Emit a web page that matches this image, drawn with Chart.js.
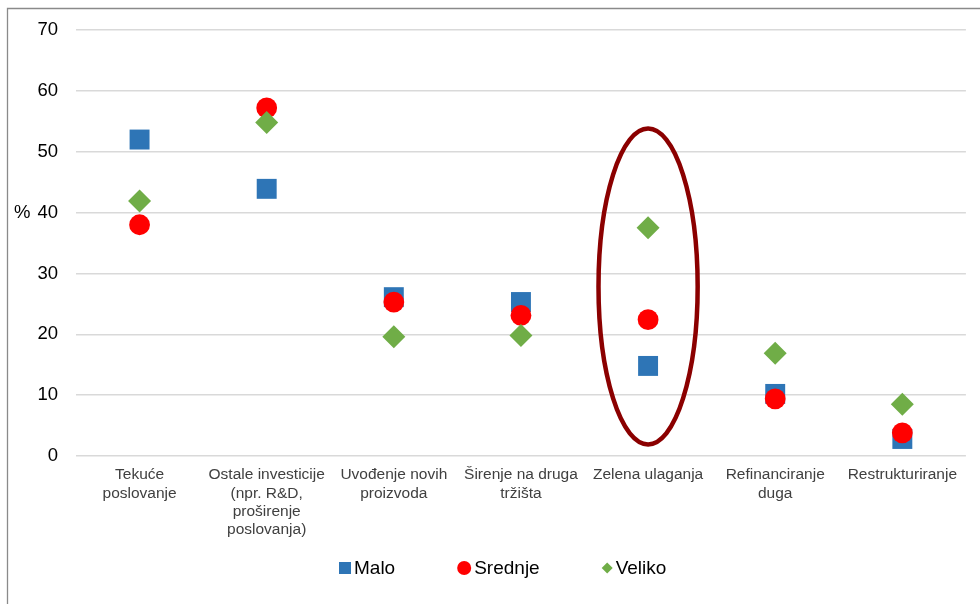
<!DOCTYPE html>
<html>
<head>
<meta charset="utf-8">
<script src="https://cdn.jsdelivr.net/npm/chart.js@4/dist/chart.umd.min.js"></script>
<style>
  html, body { margin: 0; padding: 0; background: #ffffff; }
  #wrap { position: relative; width: 980px; height: 604px; }
</style>
</head>
<body>
<div id="wrap"><canvas id="c" width="980" height="604"></canvas></div>
<script>
const categories = [
  ["Tekuće", "poslovanje"],
  ["Ostale investicije", "(npr. R&D,", "proširenje", "poslovanja)"],
  ["Uvođenje novih", "proizvoda"],
  ["Širenje na druga", "tržišta"],
  ["Zelena ulaganja"],
  ["Refinanciranje", "duga"],
  ["Restrukturiranje"]
];
const seriesNames = ["Malo", "Srednje", "Veliko"];
const maloValues    = [52.0, 43.9, 26.1, 25.3, 14.8, 10.2, 2.8];
const srednjeValues = [38.0, 57.2, 25.3, 23.1, 22.4, 9.4, 3.8];
const velikoValues  = [41.9, 54.8, 19.6, 19.8, 37.5, 16.9, 8.5];
const yMin = 0, yMax = 70, yStep = 10;
const axisUnit = "%";
// highlighted category (ellipse annotation)
const highlightIndex = 4;
const highlightRange = [1.9, 53.8];

const FONT = "'Liberation Sans', Arial, sans-serif";
const colors = ["#2E75B6", "#FF0000", "#70AD47"];

const framePlugin = {
  id: 'frame',
  beforeDraw(chart) {
    const ctx = chart.ctx;
    ctx.save();
    ctx.fillStyle = '#ffffff';
    ctx.fillRect(0, 0, chart.width, chart.height);
    ctx.strokeStyle = '#8a8a8a';
    ctx.lineWidth = 1.3;
    ctx.beginPath();
    ctx.moveTo(7.5, chart.height + 2);
    ctx.lineTo(7.5, 8.5);
    ctx.lineTo(chart.width + 2, 8.5);
    ctx.stroke();
    ctx.restore();
  }
};

const extrasPlugin = {
  id: 'extras',
  afterDatasetsDraw(chart) {
    const ctx = chart.ctx;
    const xs = chart.scales.x, ys = chart.scales.y;
    // ellipse around highlighted category
    const cx = xs.getPixelForValue(highlightIndex);
    const catW = xs.getPixelForValue(1) - xs.getPixelForValue(0);
    const yTop = ys.getPixelForValue(highlightRange[1]);
    const yBot = ys.getPixelForValue(highlightRange[0]);
    ctx.save();
    ctx.strokeStyle = '#8B0000';
    ctx.lineWidth = 4.5;
    ctx.beginPath();
    ctx.ellipse(cx, (yTop + yBot) / 2, catW * 0.39, (yBot - yTop) / 2, 0, 0, Math.PI * 2);
    ctx.stroke();
    ctx.restore();
  },
  afterDraw(chart) {
    const ctx = chart.ctx;
    const ys = chart.scales.y;
    ctx.save();
    // axis unit label
    ctx.fillStyle = '#000000';
    ctx.font = '18.5px ' + FONT;
    ctx.textAlign = 'left';
    ctx.textBaseline = 'middle';
    ctx.fillText(axisUnit, 14, ys.getPixelForValue(40));
    // legend
    const ly = 568;
    ctx.font = '19px ' + FONT;
    const markerW = [12, 14, 11];
    const gap = 3, itemGap = 62;
    let x = 339;
    chart.data.datasets.forEach((ds, i) => {
      ctx.fillStyle = ds.backgroundColor;
      const mw = markerW[i];
      const mcx = x + mw / 2;
      ctx.beginPath();
      if (ds.pointStyle === 'rect') {
        ctx.rect(x, ly - mw / 2, mw, mw);
      } else if (ds.pointStyle === 'circle') {
        ctx.arc(mcx, ly, mw / 2, 0, Math.PI * 2);
      } else {
        ctx.moveTo(mcx - mw / 2, ly);
        ctx.lineTo(mcx, ly - mw / 2);
        ctx.lineTo(mcx + mw / 2, ly);
        ctx.lineTo(mcx, ly + mw / 2);
        ctx.closePath();
      }
      ctx.fill();
      ctx.fillStyle = '#000000';
      ctx.textBaseline = 'middle';
      ctx.fillText(ds.label, x + mw + gap, ly + 1);
      x += mw + gap + ctx.measureText(ds.label).width + itemGap;
    });
    ctx.restore();
  }
};

const chart = new Chart(document.getElementById('c'), {
  type: 'line',
  data: {
    labels: categories,
    datasets: [
      { label: seriesNames[0], data: maloValues, showLine: false, pointStyle: 'rect',
        pointRadius: 14.1, pointHoverRadius: 14.1, backgroundColor: colors[0], borderColor: colors[0],
        pointBorderWidth: 0, order: 2 },
      { label: seriesNames[1], data: srednjeValues, showLine: false, pointStyle: 'circle',
        pointRadius: 10.4, pointHoverRadius: 10.4, backgroundColor: colors[1], borderColor: colors[1],
        pointBorderWidth: 0, order: 1 },
      { label: seriesNames[2], data: velikoValues, showLine: false, pointStyle: 'rectRot',
        pointRadius: 11.5, pointHoverRadius: 11.5, backgroundColor: colors[2], borderColor: colors[2],
        pointBorderWidth: 0, order: 0 }
    ]
  },
  options: {
    responsive: false,
    animation: false,
    events: [],
    layout: { padding: { left: 0, right: 13, top: 30, bottom: 48 } },
    plugins: {
      legend: { display: false },
      tooltip: { enabled: false },
      title: { display: false }
    },
    scales: {
      x: {
        type: 'category',
        offset: true,
        grid: { display: false, drawTicks: false },
        border: { display: false },
        ticks: {
          color: '#404040',
          font: { family: FONT, size: 15.5, lineHeight: 1.18 },
          padding: 10,
          maxRotation: 0,
          minRotation: 0,
          autoSkip: false
        },
        afterFit(scale) { scale.height = 100; }
      },
      y: {
        min: yMin, max: yMax,
        grid: { color: '#D9D9D9', lineWidth: 1.5, drawTicks: false },
        border: { display: false },
        ticks: {
          stepSize: yStep,
          color: '#000000',
          font: { family: FONT, size: 18.5 },
          padding: 18
        },
        afterFit(scale) { scale.width = 76; }
      }
    }
  },
  plugins: [framePlugin, extrasPlugin]
});
</script>
</body>
</html>
